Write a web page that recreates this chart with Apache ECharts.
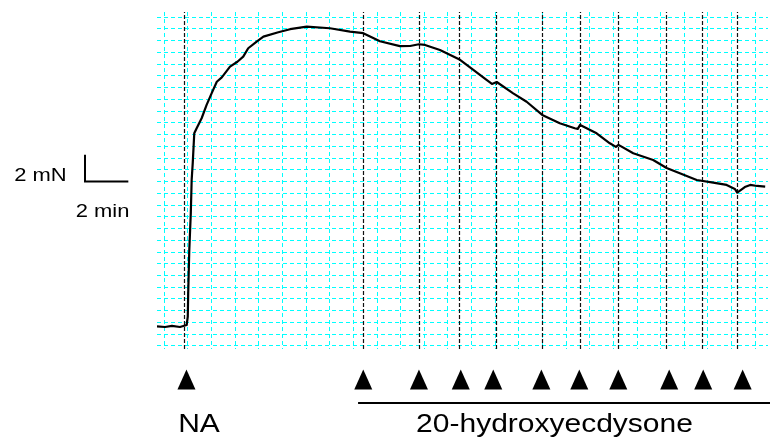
<!DOCTYPE html>
<html>
<head>
<meta charset="utf-8">
<script src="https://cdn.jsdelivr.net/npm/echarts@6/dist/echarts.min.js"></script>
<style>
  html, body { margin: 0; padding: 0; background: #ffffff; }
  #chart { width: 770px; height: 441px; }
</style>
</head>
<body>
<div id="chart"></div>
<script>
// Isometric tension recording: time in min (0 = noradrenaline added), tension in mN above resting baseline
const traceTime = [
  -1.26, -0.89, -0.57, -0.20, 0.11, 0.14, 0.16, 0.18, 0.23, 0.30, 0.34, 0.39, 0.46, 0.57,
  0.80, 1.03, 1.26, 1.50, 1.73, 2.11, 2.45, 2.72, 2.95, 3.34, 3.65, 4.34, 4.88, 5.65,
  6.72, 7.65, 8.26, 9.03, 9.95, 10.42, 10.83, 11.11, 11.80, 12.68, 13.34, 13.95, 14.20,
  14.42, 15.18, 15.80, 16.52, 17.33, 18.02, 18.16, 18.27, 19.03, 19.64, 19.92, 20.04,
  20.72, 21.64, 22.26, 22.87, 23.65, 24.41, 25.03, 25.41, 25.52, 25.87, 26.12, 26.44, 26.81
];
const traceTension = [
  0.00, -0.04, 0.04, -0.04, 0.11, 0.24, 0.74, 2.49, 5.74, 8.49, 10.99, 12.27, 14.49, 14.87,
  15.62, 16.62, 17.49, 18.36, 18.69, 19.49, 19.86, 20.24, 20.87, 21.37, 21.74, 22.07, 22.30, 22.49,
  22.37, 22.12, 22.00, 21.40, 21.03, 21.04, 21.17, 21.12, 20.74, 20.05, 19.24, 18.49, 18.19,
  18.34, 17.49, 16.86, 15.87, 15.24, 14.87, 14.82, 15.12, 14.49, 13.74, 13.47, 13.62,
  12.99, 12.49, 11.89, 11.49, 10.99, 10.79, 10.62, 10.32, 10.04, 10.46, 10.62, 10.54, 10.49
];

// Drug additions (min): noradrenaline, then cumulative 20-hydroxyecdysone
const doseTimes = [0, 8.26, 10.83, 12.68, 14.42, 16.52, 18.27, 20.04, 22.26, 23.90, 25.54];
const markerTimes = [0.10, 8.26, 10.83, 12.76, 14.26, 16.48, 18.23, 20.03, 22.38, 23.95, 25.77];

// Labels and calibration bar
const drugLabels = ['NA', '20-hydroxyecdysone'];
const scaleBar = { tension: 2, time: 2, tensionLabel: '2 mN', timeLabel: '2 min' };

// Axis windows
const timeRange = [-1.26, 26.94];
const tensionRange = [-1.69, 23.59];
const paperCols = 25;
const paperRows = 28;

const FONT = '"Liberation Sans", Arial, Helvetica, sans-serif';
const paperLine = { show: true, lineStyle: { color: '#00ffff', width: 1, type: [4, 3] } };
const hidden = { show: false };

const chart = echarts.init(document.getElementById('chart'), null, { renderer: 'canvas' });

const trace = traceTime.map((t, i) => [t, traceTension[i]]);

chart.setOption({
  animation: false,
  backgroundColor: '#ffffff',
  grid: [
    { left: 157, top: 17, width: 611, height: 328.7 },   // chart paper rows
    { left: 164, top: 12, width: 591, height: 337 },     // chart paper columns
    { left: 157, top: 12, width: 611, height: 337 },     // tension trace
    { left: 157, top: 362, width: 611, height: 35 }      // addition markers
  ],
  xAxis: [
    { gridIndex: 0, type: 'value', min: 0, max: 1, show: false },
    { gridIndex: 1, type: 'value', min: 0, max: paperCols, interval: 1,
      axisLine: hidden, axisTick: hidden, axisLabel: hidden, splitLine: paperLine },
    { gridIndex: 2, type: 'value', min: timeRange[0], max: timeRange[1], show: false },
    { gridIndex: 3, type: 'value', min: timeRange[0], max: timeRange[1], show: false }
  ],
  yAxis: [
    { gridIndex: 0, type: 'value', min: 0, max: paperRows, interval: 1,
      axisLine: hidden, axisTick: hidden, axisLabel: hidden, splitLine: paperLine },
    { gridIndex: 1, type: 'value', min: 0, max: 1, show: false },
    { gridIndex: 2, type: 'value', min: tensionRange[0], max: tensionRange[1], show: false },
    { gridIndex: 3, type: 'value', min: 0, max: 1, show: false }
  ],
  series: [
    {
      type: 'line',
      xAxisIndex: 2, yAxisIndex: 2,
      data: trace,
      showSymbol: false,
      smooth: false,
      lineStyle: { color: '#000000', width: 2.2, join: 'round' },
      z: 5,
      markLine: {
        silent: true,
        symbol: 'none',
        label: { show: false },
        lineStyle: { color: '#111111', width: 1.2, type: [4, 2] },
        data: doseTimes.map(t => ({ xAxis: t }))
      }
    },
    {
      type: 'scatter',
      xAxisIndex: 3, yAxisIndex: 3,
      data: markerTimes.map(t => [t, 0.5]),
      symbol: 'triangle',
      symbolSize: [18, 20],
      itemStyle: { color: '#000000', opacity: 1 },
      silent: true
    }
  ]
});

// Annotations: calibration bar sized from the axis scales, drug labels, treatment bar
function px(t, f) { return chart.convertToPixel({ gridIndex: 2 }, [t, f]); }
const p0 = px(0, 0);
const barW = px(scaleBar.time, 0)[0] - p0[0];
const barH = p0[1] - px(0, scaleBar.tension)[1];
const corner = [85, 181.5];
const treatStart = chart.convertToPixel({ gridIndex: 3 }, [8.02, 0])[0];

chart.setOption({
  graphic: [
    { type: 'polyline', silent: true,
      shape: { points: [[corner[0], corner[1] - barH], corner, [corner[0] + barW, corner[1]]] },
      style: { stroke: '#000', lineWidth: 2, fill: null } },
    { type: 'text', x: 40.5, y: 176.5, silent: true, scaleX: 1.22,
      style: { text: scaleBar.tensionLabel, font: '18px ' + FONT, fill: '#000', align: 'center', verticalAlign: 'middle' } },
    { type: 'text', x: 102.5, y: 212, silent: true, scaleX: 1.22,
      style: { text: scaleBar.timeLabel, font: '18px ' + FONT, fill: '#000', align: 'center', verticalAlign: 'middle' } },
    { type: 'line', silent: true,
      shape: { x1: treatStart, y1: 403, x2: 770, y2: 403 },
      style: { stroke: '#000', lineWidth: 2 } },
    { type: 'text', x: 199, y: 425, silent: true, scaleX: 1.2,
      style: { text: drugLabels[0], font: '25px ' + FONT, fill: '#000', align: 'center', verticalAlign: 'middle' } },
    { type: 'text', x: 554.5, y: 425, silent: true, scaleX: 1.2,
      style: { text: drugLabels[1], font: '25px ' + FONT, fill: '#000', align: 'center', verticalAlign: 'middle' } }
  ]
});
</script>
</body>
</html>
